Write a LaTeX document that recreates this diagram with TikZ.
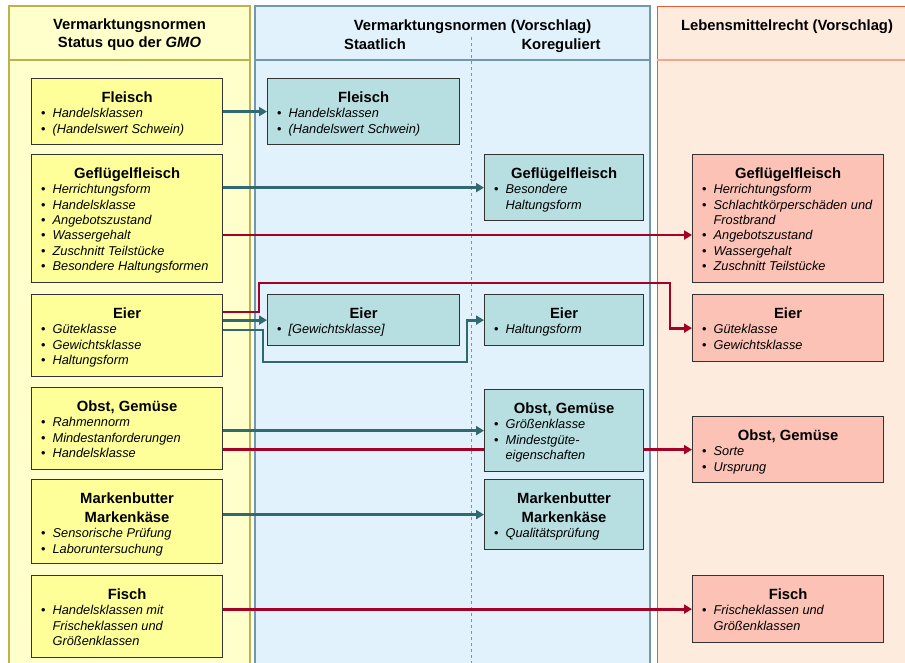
\documentclass[tikz,border=0pt]{standalone}
\usepackage{fontspec}
\setmainfont{Liberation Sans}
\usetikzlibrary{arrows.meta, calc}

\definecolor{colYellow}{HTML}{FFFFCC}
\definecolor{lineYellow}{HTML}{BDB24E}
\definecolor{colBlue}{HTML}{E1F2FC}
\definecolor{lineBlue}{HTML}{6F9CA4}
\definecolor{colRed}{HTML}{FDEBDD}
\definecolor{lineRed}{HTML}{EE5A32}
\definecolor{lineRedHead}{HTML}{F3A68C}
\definecolor{boxYellow}{HTML}{FFFF99}
\definecolor{boxTeal}{HTML}{B7DEE1}
\definecolor{boxSalmon}{HTML}{FCC2B5}
\definecolor{wireTeal}{HTML}{306A70}
\definecolor{wireRed}{HTML}{A50026}

\pgfdeclarelayer{bg}
\pgfdeclarelayer{wires}
\pgfsetlayers{bg,wires,main}

% box contents: title + bullet items
\newcommand{\cardtitle}[1]{{\centering\fontsize{14.8}{19}\selectfont\bfseries\rule{0pt}{24pt}#1\par}}
\newcommand{\bitem}[1]{\par\hangindent=21pt\hangafter=1\noindent\makebox[21pt][l]{\hspace{9.5pt}\textbullet}\textit{#1}}
\newcommand{\card}[4]{\parbox[c][#2][t]{#1}{\cardtitle{#3}\fontsize{12.8}{15.3}\selectfont\raggedright#4\par}}

\tikzset{
  card/.style={draw=black!80, line width=1.2pt, inner sep=0pt, anchor=north west},
  gmo/.style={card, fill=boxYellow},
  staat/.style={card, fill=boxTeal},
  lmr/.style={card, fill=boxSalmon},
  tealwire/.style={draw=wireTeal, line width=2.8pt, -{Triangle[length=8pt,width=9pt]}},
  redwire/.style={draw=wireRed, line width=2.8pt, -{Triangle[length=8pt,width=9pt]}},
  colhead/.style={font=\fontsize{14.8}{18}\selectfont\bfseries, inner sep=0pt}
}

\begin{document}
\begin{tikzpicture}[x=1pt, y=-1pt]
    \useasboundingbox (0,0) rectangle (905,662);

    % Columns
    \begin{pgfonlayer}{bg}
        \draw[fill=colYellow, draw=lineYellow, line width=1.5pt] (9,6) rectangle (250,690);
        \draw[lineYellow, line width=1.5pt] (9,60) -- (250,60);
        \draw[fill=colBlue, draw=lineBlue, line width=1.8pt] (255,6) rectangle (650,690);
        \draw[lineBlue, line width=1.8pt] (255,60) -- (650,60);
        \draw[fill=colRed, draw=lineRed, line width=1pt] (657,6) rectangle (930,690);
        \draw[lineRedHead, line width=1.8pt] (657,60) -- (930,60);
        \draw[lineBlue, line width=0.9pt, dash pattern=on 3pt off 3pt] (471,37) -- (471,690);
    \end{pgfonlayer}

    % Headers
    \node[colhead, align=center] (hdGmo) at (129.5,35) {Vermarktungsnormen\\Status quo der \textit{GMO}};
    \node[colhead, anchor=base] (hdVor) at (472.5,30) {Vermarktungsnormen (Vorschlag)};
    \node[colhead, anchor=base] (hdSt) at (375,49) {Staatlich};
    \node[colhead, anchor=base] (hdKor) at (561,49) {Koreguliert};
    \node[colhead, anchor=base] (hdLm) at (787,30) {Lebensmittelrecht (Vorschlag)};

    % Status quo
    \node[gmo] (gmoFleisch) at (31,78) {\card{191pt}{66pt}{Fleisch}{\bitem{Handelsklassen}\bitem{(Handelswert Schwein)}}};
    \node[gmo] (gmoGefl) at (31,154) {\card{191pt}{128pt}{Geflügelfleisch}{\bitem{Herrichtungsform}\bitem{Handelsklasse}\bitem{Angebotszustand}\bitem{Wassergehalt}\bitem{Zuschnitt Teilstücke}\bitem{Besondere Haltungsformen}}};
    \node[gmo] (gmoEier) at (31,294) {\card{191pt}{82pt}{Eier}{\bitem{Güteklasse}\bitem{Gewichtsklasse}\bitem{Haltungsform}}};
    \node[gmo] (gmoObst) at (31,387) {\card{191pt}{82pt}{Obst, Gemüse}{\bitem{Rahmennorm}\bitem{Mindestanforderungen}\bitem{Handelsklasse}}};
    \node[gmo] (gmoButter) at (31,479) {\card{191pt}{84pt}{Markenbutter\\Markenkäse}{\bitem{Sensorische Prüfung}\bitem{Laboruntersuchung}}};
    \node[gmo] (gmoFisch) at (31,575) {\card{191pt}{82pt}{Fisch}{\bitem{Handelsklassen mit\newline Frischeklassen und\newline Größenklassen}}};

    % Staatlich / Koreguliert
    \node[staat] (stFleisch) at (267,78) {\card{192pt}{66pt}{Fleisch}{\bitem{Handelsklassen}\bitem{(Handelswert Schwein)}}};
    \node[staat] (stEier) at (267,294) {\card{192pt}{51pt}{Eier}{\bitem{[Gewichtsklasse]}}};
    \node[staat] (korGefl) at (484,154) {\card{159pt}{66pt}{Geflügelfleisch}{\bitem{Besondere\newline Haltungsform}}};
    \node[staat] (korEier) at (484,294) {\card{159pt}{51pt}{Eier}{\bitem{Haltungsform}}};
    \node[staat] (korObst) at (484,389) {\card{159pt}{82pt}{Obst, Gemüse}{\bitem{Größenklasse}\bitem{Mindestgüte-\newline eigenschaften}}};
    \node[staat] (korButter) at (484,479) {\card{159pt}{70pt}{Markenbutter\\Markenkäse}{\bitem{Qualitätsprüfung}}};

    % Lebensmittelrecht
    \node[lmr] (lmGefl) at (692,154) {\card{191pt}{128pt}{Geflügelfleisch}{\bitem{Herrichtungsform}\bitem{Schlachtkörperschäden und\newline Frostbrand}\bitem{Angebotszustand}\bitem{Wassergehalt}\bitem{Zuschnitt Teilstücke}}};
    \node[lmr] (lmEier) at (692,294) {\card{191pt}{67pt}{Eier}{\bitem{Güteklasse}\bitem{Gewichtsklasse}}};
    \node[lmr] (lmObst) at (692,416) {\card{191pt}{66pt}{Obst, Gemüse}{\bitem{Sorte}\bitem{Ursprung}}};
    \node[lmr] (lmFisch) at (692,575) {\card{191pt}{67pt}{Fisch}{\bitem{Frischeklassen und\newline Größenklassen}}};

    % Connectors
    \begin{pgfonlayer}{wires}
        \draw[tealwire] (gmoFleisch.east) -- (stFleisch.west);
        \draw[tealwire] (gmoGefl.east |- korGefl.west) -- (korGefl.west);
        \draw[redwire] (gmoGefl.east |- 0,235) -- (lmGefl.west |- 0,235);
        \draw[redwire] (gmoEier.east |- 0,312) -| (259,283) -| ($(lmEier.west)+(-22,0)$) -- (lmEier.west);
        \draw[tealwire] (gmoEier.east |- stEier.west) -- (stEier.west);
        \draw[tealwire] (gmoEier.east |- 0,330) -| (263,362) -| ($(korEier.west)+(-17,0)$) -- (korEier.west);
        \draw[tealwire] (gmoObst.east |- korObst.west) -- (korObst.west);
        \draw[redwire] (gmoObst.east |- lmObst.west) -- (lmObst.west);
        \draw[tealwire] (gmoButter.east |- korButter.west) -- (korButter.west);
        \draw[redwire] (gmoFisch.east |- lmFisch.west) -- (lmFisch.west);
    \end{pgfonlayer}
\end{tikzpicture}
\end{document}
